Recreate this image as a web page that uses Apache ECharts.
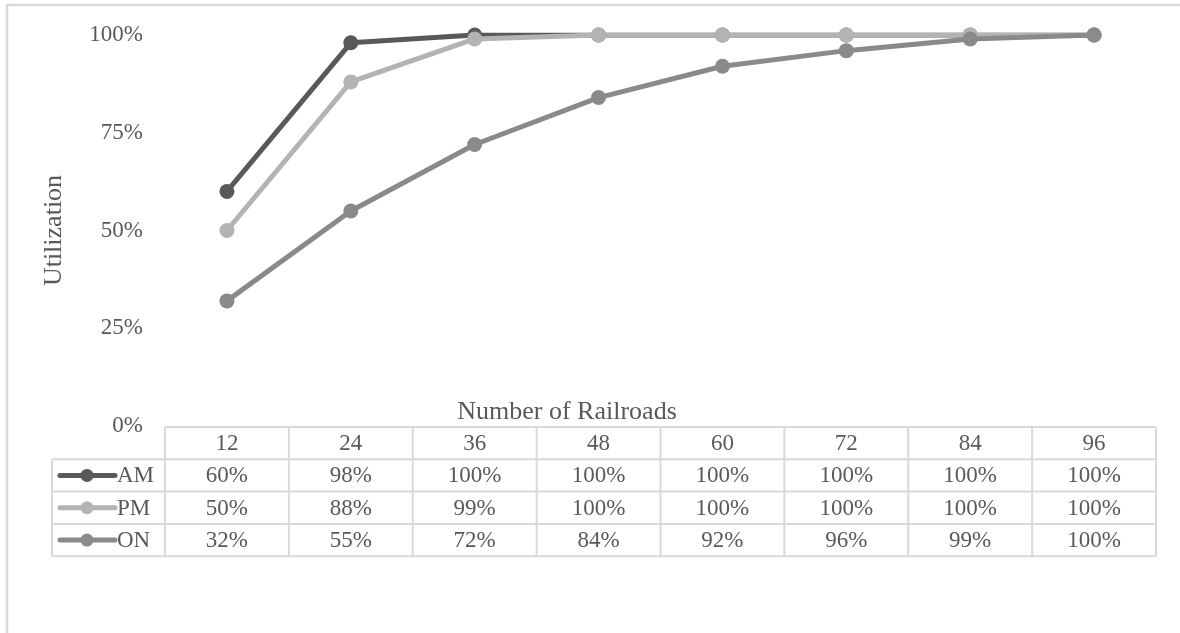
<!DOCTYPE html>
<html>
<head>
<meta charset="utf-8">
<script src="https://cdn.jsdelivr.net/npm/echarts@6/dist/echarts.min.js"></script>
<style>
  html, body { margin: 0; padding: 0; background: #ffffff; }
  #chart { width: 1180px; height: 633px; }
</style>
</head>
<body>
<div id="chart"></div>
<script>
// Number of railroads on the category axis
const railroads = ['12', '24', '36', '48', '60', '72', '84', '96'];
// Utilization (%) per period
const amUtil = [60, 98, 100, 100, 100, 100, 100, 100];
const pmUtil = [50, 88, 99, 100, 100, 100, 100, 100];
const onUtil = [32, 55, 72, 84, 92, 96, 99, 100];
const seriesNames = ['AM', 'PM', 'ON'];
const seriesColors = ['#595959', '#b3b3b3', '#8a8a8a'];

const FONT = "'Liberation Serif', 'Times New Roman', serif";
const TEXT = '#595959';
const RULE = '#d9d9d9';
const TICK_SIZE = 23;
const TITLE_SIZE = 26;
const ROW_H = 32.3;

const chart = echarts.init(document.getElementById('chart'), null, { renderer: 'canvas' });

const seriesData = [amUtil, pmUtil, onUtil];

chart.setOption({
  animation: false,
  backgroundColor: '#ffffff',
  grid: { left: 165, right: 24, top: 35, bottom: 207, containLabel: false },
  xAxis: {
    type: 'category',
    data: railroads,
    boundaryGap: true,
    axisLine: { show: false },
    axisTick: { show: false },
    axisLabel: { show: false },
    splitLine: { show: false }
  },
  yAxis: {
    type: 'value',
    min: 0, max: 100, interval: 25,
    axisLine: { show: false },
    axisTick: { show: false },
    splitLine: { show: false },
    axisLabel: {
      formatter: '{value}%',
      fontFamily: FONT, fontSize: TICK_SIZE, color: TEXT, margin: 22
    },
    name: 'Utilization',
    nameLocation: 'middle',
    nameRotate: 90,
    nameGap: 98,
    nameTextStyle: { fontFamily: FONT, fontSize: TITLE_SIZE, color: TEXT }
  },
  series: seriesNames.map((name, k) => ({
    name,
    type: 'line',
    data: seriesData[k],
    symbol: 'circle',
    symbolSize: 15,
    showSymbol: true,
    itemStyle: { color: seriesColors[k] },
    lineStyle: { color: seriesColors[k], width: 5, cap: 'round', join: 'round' },
    z: 2 + k
  }))
});

// Build the data table under the plot from the axis positions
function buildTable() {
  const centers = railroads.map((c) => chart.convertToPixel({ xAxisIndex: 0 }, c));
  const band = centers[1] - centers[0];
  const x0 = centers[0] - band / 2;
  const x1 = centers[centers.length - 1] + band / 2;
  const tableTop = chart.convertToPixel({ yAxisIndex: 0 }, 0) + 1;
  const keyLeft = 52;
  const nRows = seriesNames.length + 1;
  const tableBottom = tableTop + ROW_H * nRows;
  const els = [];
  const line = (ax, ay, bx, by) => els.push({
    type: 'line', silent: true,
    shape: { x1: ax, y1: ay, x2: bx, y2: by },
    style: { stroke: RULE, lineWidth: 2 }
  });
  const text = (str, x, y, align) => els.push({
    type: 'text', silent: true,
    style: {
      text: str, x, y, align: align || 'center', verticalAlign: 'middle',
      font: TICK_SIZE + 'px ' + FONT, fill: TEXT
    }
  });

  // horizontal rules
  line(x0, tableTop, x1, tableTop);
  for (let r = 1; r <= nRows; r++) {
    const y = tableTop + ROW_H * r;
    line(keyLeft, y, x1, y);
  }
  // vertical rules
  line(keyLeft, tableTop + ROW_H, keyLeft, tableBottom);
  for (let i = 0; i <= railroads.length; i++) {
    const x = x0 + band * i;
    line(x, tableTop, x, tableBottom);
  }
  // header row: categories
  railroads.forEach((c, i) => text(c, centers[i], tableTop + ROW_H / 2 + 1));
  // series rows
  seriesNames.forEach((name, k) => {
    const cy = tableTop + ROW_H * (k + 1.5) + 1;
    els.push({
      type: 'line', silent: true,
      shape: { x1: keyLeft + 8, y1: cy - 1, x2: keyLeft + 63, y2: cy - 1 },
      style: { stroke: seriesColors[k], lineWidth: 5, lineCap: 'round' }
    });
    els.push({
      type: 'circle', silent: true,
      shape: { cx: keyLeft + 35, cy: cy - 1, r: 6.5 },
      style: { fill: seriesColors[k] }
    });
    text(name, keyLeft + 65, cy, 'left');
    seriesData[k].forEach((v, i) => text(v + '%', centers[i], cy));
  });

  // axis title above the table
  els.push({
    type: 'text', silent: true,
    style: {
      text: 'Number of Railroads', x: 567, y: tableTop - 15,
      align: 'center', verticalAlign: 'middle',
      font: TITLE_SIZE + 'px ' + FONT, fill: TEXT
    }
  });

  // chart area frame
  els.push({
    type: 'rect', silent: true, z: -1,
    shape: { x: 7, y: 5, width: 1300, height: 800 },
    style: { fill: 'none', stroke: RULE, lineWidth: 2.5 }
  });

  chart.setOption({ graphic: els });
}

buildTable();
</script>
</body>
</html>
